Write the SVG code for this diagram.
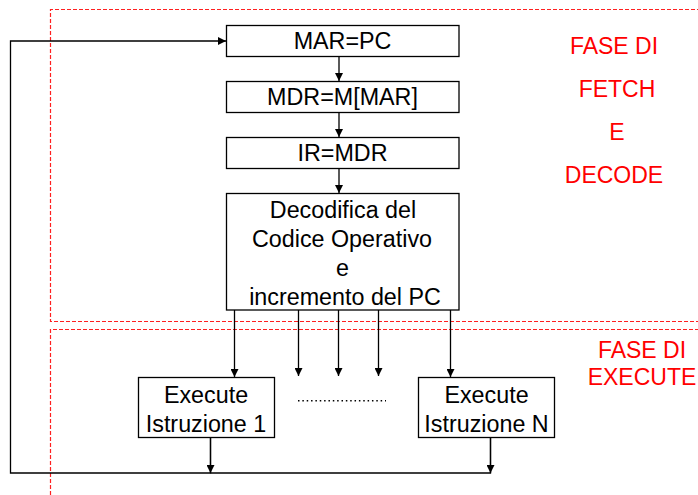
<svg xmlns="http://www.w3.org/2000/svg" width="698" height="495" viewBox="0 0 698 495">
<style>
  .box { fill: #fff; stroke: #000; stroke-width: 1.3; }
  .t { font-family: "Liberation Sans", Arial, sans-serif; font-size: 23.3px; fill: #000; text-anchor: middle; }
  .r { font-family: "Liberation Sans", Arial, sans-serif; font-size: 23px; fill: #ff0000; text-anchor: middle; }
  .ln { fill: none; stroke: #000; stroke-width: 1.3; }
  .dash { fill: none; stroke: #ff2020; stroke-width: 1.2; stroke-dasharray: 4 2; }
</style>
<defs>
  <marker id="ah" viewBox="0 0 8 8" refX="8" refY="4" markerWidth="8" markerHeight="8" markerUnits="userSpaceOnUse" orient="auto">
    <path d="M0,0 L8,4 L0,8 Z" fill="#000"/>
  </marker>
</defs>
<rect width="698" height="495" fill="#fff"/>
<g id="phases">
  <path class="dash" d="M50.5,495 V329.5 H700"/>
  <path class="dash" d="M700,321.5 H50.5 V9.5 H700"/>
  <text class="r" x="614" y="54">FASE DI</text>
  <text class="r" x="617" y="97">FETCH</text>
  <text class="r" x="617" y="140">E</text>
  <text class="r" x="614" y="183">DECODE</text>
  <text class="r" x="642" y="358">FASE DI</text>
  <text class="r" x="642" y="385">EXECUTE</text>
</g>
<g id="connectors">
  <path class="ln" d="M210.5,437 V473 H10.5 V41 H226" marker-end="url(#ah)"/>
  <path class="ln" d="M490.5,437 V473 H210.5"/>
  <path class="ln" d="M490.5,437 V473" marker-end="url(#ah)"/>
  <path class="ln" d="M210.5,437 V473" marker-end="url(#ah)"/>
  <path class="ln" d="M339,56 V81" marker-end="url(#ah)"/>
  <path class="ln" d="M339,112 V137" marker-end="url(#ah)"/>
  <path class="ln" d="M339,168 V193" marker-end="url(#ah)"/>
  <path class="ln" d="M234.5,310 V377" marker-end="url(#ah)"/>
  <path class="ln" d="M298.5,310 V376" marker-end="url(#ah)"/>
  <path class="ln" d="M338.5,310 V376" marker-end="url(#ah)"/>
  <path class="ln" d="M378.5,310 V376" marker-end="url(#ah)"/>
  <path class="ln" d="M450.5,310 V377" marker-end="url(#ah)"/>
  <path d="M298,400.7 H386" fill="none" stroke="#000" stroke-width="1.5" stroke-dasharray="1.5 2.85"/>
</g>
<g id="mar">
  <rect class="box" x="226.5" y="25.5" width="232.5" height="31"/>
  <text class="t" x="342.5" y="49">MAR=PC</text>
</g>
<g id="mdr">
  <rect class="box" x="226.5" y="81.5" width="232.5" height="31"/>
  <text class="t" x="342.5" y="105">MDR=M[MAR]</text>
</g>
<g id="ir">
  <rect class="box" x="226.5" y="137.5" width="232.5" height="31"/>
  <text class="t" x="342.5" y="161">IR=MDR</text>
</g>
<g id="decode">
  <rect class="box" x="226.5" y="193.5" width="232.5" height="116.5"/>
  <text class="t" x="343" y="217.5">Decodifica del</text>
  <text class="t" x="342" y="246.5">Codice Operativo</text>
  <text class="t" x="342.5" y="275.5">e</text>
  <text class="t" x="345" y="304.5">incremento del PC</text>
</g>
<g id="exec1">
  <rect class="box" x="138.5" y="377.5" width="136" height="60"/>
  <text class="t" x="206" y="403.3">Execute</text>
  <text class="t" x="206" y="431.5">Istruzione 1</text>
</g>
<g id="execN">
  <rect class="box" x="418.5" y="377.5" width="136" height="60"/>
  <text class="t" x="486.5" y="403.3">Execute</text>
  <text class="t" x="486.5" y="431.5">Istruzione N</text>
</g>
</svg>
